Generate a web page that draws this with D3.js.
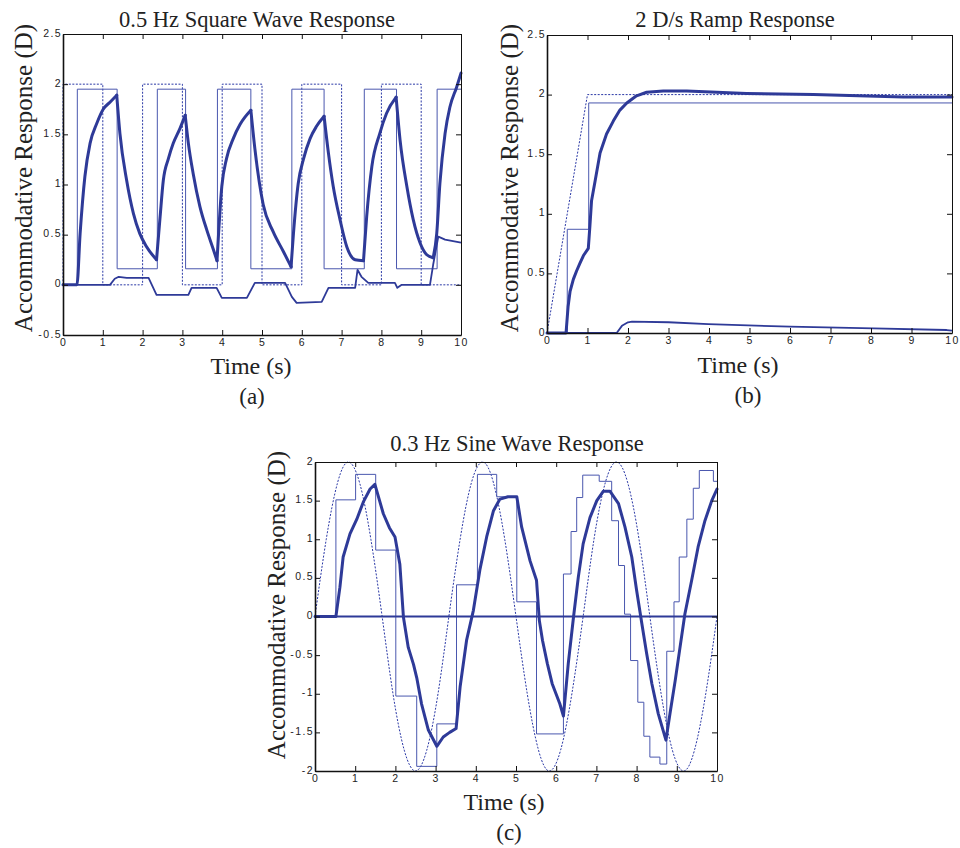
<!DOCTYPE html>
<meta charset="utf-8">
<head>
	<title>Accommodative responses</title>
</head>

<style>
body { margin: 0; background: #fff; }
svg { display: block; background: #fff; }
.tick text {
  font-family: "Liberation Sans", Arial, sans-serif;
  font-size: 10.5px;
  letter-spacing: 1.4px;
  fill: #222;
}
.tick line { stroke: #111; }
.domain { stroke: #111; }
.ttl { font-family: "Liberation Serif", "Times New Roman", serif; font-size: 22.5px; fill: #222; text-anchor: middle; }
.lbl { font-family: "Liberation Serif", "Times New Roman", serif; font-size: 24px; fill: #222; text-anchor: middle; }
.ylbl { font-size: 25px; }
.thick { fill: none; stroke: #2e3a98; stroke-width: 3; stroke-linejoin: round; stroke-linecap: round; }
.thin { fill: none; stroke: #4a57ae; stroke-width: 1; }
.lower { fill: none; stroke: #2e3a98; stroke-width: 1.8; stroke-linejoin: round; }
.dotted { fill: none; stroke: #2a38a6; stroke-width: 1; stroke-dasharray: 2,1.5; }
</style>

<body>
<svg width="960" height="848"></svg>

<script src="https://cdnjs.cloudflare.com/ajax/libs/d3/7.8.5/d3.min.js"></script>
<script>

var timeTicks = [0, 1, 2, 3, 4, 5, 6, 7, 8, 9, 10];
var squareYTicks = [-0.5, 0, 0.5, 1, 1.5, 2, 2.5];
var rampYTicks = [0, 0.5, 1, 1.5, 2, 2.5];
var sineYTicks = [-2, -1.5, -1, -0.5, 0, 0.5, 1, 1.5, 2];

// (a) 0.5 Hz square wave, [time s, dioptres]
var squareStimulus = [[0,0],[0,2],[1,0],[2,2],[3,0],[4,2],[5,0],[6,2],[7,0],[8,2],[9,0],[10,0]];
var squareStep = [[0,0],[0.36,1.95],[1.36,0.16],[2.37,1.95],[3.08,0.16],[3.88,1.95],[4.72,0.16],
	[5.75,1.95],[6.56,0.16],[7.57,1.95],[8.38,0.16],[9.40,1.95],[10,1.95]];
var squareResponse = [[0,0],[0.35,0],[0.43,0.51],[0.55,1.08],[0.68,1.41],[0.85,1.61],[1.01,1.75],[1.18,1.82],[1.35,1.89],
	[1.43,1.51],[1.60,1.04],[1.77,0.71],[1.93,0.51],[2.10,0.38],[2.35,0.25],
	[2.44,0.68],[2.52,1.04],[2.65,1.26],[2.77,1.41],[2.94,1.56],[3.07,1.69],
	[3.15,1.41],[3.27,1.11],[3.44,0.78],[3.61,0.55],[3.78,0.35],[3.87,0.24],
	[3.99,0.98],[4.11,1.26],[4.28,1.46],[4.45,1.60],[4.72,1.74],
	[4.82,1.36],[5.03,0.80],[5.28,0.53],[5.54,0.33],[5.73,0.18],
	[5.79,0.51],[5.91,1.01],[6.04,1.25],[6.21,1.46],[6.37,1.58],[6.56,1.68],
	[6.67,1.31],[6.79,0.98],[6.96,0.65],[7.13,0.38],[7.34,0.25],[7.55,0.24],
	[7.63,0.68],[7.76,1.18],[7.96,1.51],[8.13,1.71],[8.37,1.87],
	[8.47,1.44],[8.64,0.98],[8.80,0.65],[8.97,0.42],[9.14,0.30],[9.30,0.27],
	[9.39,0.51],[9.47,1.01],[9.60,1.51],[9.72,1.77],[9.89,1.97],[10,2.11]];
var squareLower = [[0,0],[1.18,0],[1.30,0.06],[1.40,0.08],[1.60,0.07],[2.15,0.07],[2.35,-0.10],[3.15,-0.10],
	[3.23,-0.03],[3.86,-0.03],[3.99,-0.13],[4.62,-0.13],[4.82,0.02],[5.58,0.02],[5.75,-0.12],[5.87,-0.18],
	[6.50,-0.17],[6.67,-0.03],[7.34,-0.03],[7.40,0.15],[7.50,0.08],[7.67,0.02],[8.34,0.02],[8.40,-0.03],
	[8.51,0.00],[9.22,0.00],[9.30,0.20],[9.43,0.48],[9.60,0.45],[10,0.42]];

// (b) 2 D/s ramp
var rampStimulus = [[0,0],[1,2],[10,2]];
var rampStep = [[0,0],[0.50,0.87],[1.03,1.93],[10,1.93]];
var rampResponse = [[0,0],[0.47,0],[0.52,0.22],[0.57,0.35],[0.65,0.45],[0.73,0.52],[0.82,0.59],[0.90,0.65],[1.02,0.71],
	[1.06,0.90],[1.10,1.11],[1.19,1.28],[1.31,1.51],[1.47,1.67],[1.64,1.78],[1.80,1.87],[1.97,1.93],
	[2.21,1.99],[2.46,2.02],[2.87,2.03],[3.45,2.03],[4.93,2.01],[6.58,2.00],[8.80,1.98],[10,1.98]];
var rampLower = [[0,0],[1.72,0],[1.85,0.06],[2.00,0.09],[2.10,0.095],[3.00,0.09],[3.98,0.075],[6.00,0.053],
	[8.06,0.039],[9.87,0.025],[10,0.02]];

// (c) 0.3 Hz sine
var sineStimulus = [[0,0],[0.28,1],[0.56,1.73],[0.83,2],[1.11,1.73],[1.39,1],[1.67,0],[1.94,-1],[2.22,-1.73],
	[2.50,-2],[2.78,-1.73],[3.06,-1],[3.33,0],[3.61,1],[3.89,1.73],[4.17,2],[4.44,1.73],[4.72,1],[5.00,0],
	[5.28,-1],[5.56,-1.73],[5.83,-2],[6.11,-1.73],[6.39,-1],[6.67,0],[6.94,1],[7.22,1.73],[7.50,2],
	[7.78,1.73],[8.06,1],[8.33,0],[8.61,-1],[8.89,-1.73],[9.17,-2],[9.44,-1.73],[9.72,-1],[10,0]];
var sineStep = [[0,0],[0.52,1.51],[1.01,1.84],[1.51,0.86],[2.01,-1.03],[2.53,-1.94],[3.03,-1.39],[3.52,0.41],
	[4.04,1.84],[4.52,1.55],[5.02,0.19],[5.51,-1.52],[6.18,0.55],[6.37,1.10],[6.51,1.54],[6.66,1.83],
	[7.07,1.75],[7.38,1.24],[7.55,0.66],[7.70,0.03],[7.85,-0.57],[8.03,-1.11],[8.18,-1.55],[8.33,-1.82],
	[8.58,-1.91],[8.75,-0.45],[8.93,0.19],[9.06,0.77],[9.25,1.26],[9.41,1.66],[9.56,1.89],[9.91,1.75],[10,1.75]];
var sineResponse = [[0,0],[0.52,0],[0.62,0.38],[0.70,0.77],[0.87,1.07],[1.04,1.26],[1.20,1.48],[1.37,1.65],[1.49,1.71],
	[1.70,1.33],[1.85,1.15],[1.99,1.03],[2.11,0.68],[2.20,-0.01],[2.32,-0.40],[2.45,-0.62],[2.53,-0.79],
	[2.65,-1.13],[2.82,-1.47],[3.03,-1.68],[3.19,-1.56],[3.35,-1.50],[3.51,-1.45],[3.61,-0.91],[3.77,-0.31],
	[3.94,0.08],[4.10,0.60],[4.27,1.03],[4.44,1.37],[4.60,1.52],[4.80,1.55],[5.02,1.55],[5.14,1.16],
	[5.35,0.72],[5.51,0.47],[5.58,-0.05],[5.66,-0.31],[5.78,-0.61],[5.90,-0.87],[6.09,-1.13],[6.18,-1.29],
	[6.30,-0.61],[6.43,-0.01],[6.55,0.51],[6.67,0.94],[6.84,1.28],[7.01,1.50],[7.17,1.62],[7.34,1.62],
	[7.55,1.46],[7.71,1.16],[7.88,0.77],[8.00,0.34],[8.13,-0.09],[8.25,-0.48],[8.38,-0.87],[8.54,-1.26],
	[8.73,-1.60],[8.83,-1.26],[8.96,-0.83],[9.08,-0.40],[9.20,0.03],[9.37,0.47],[9.53,0.90],[9.70,1.24],
	[9.87,1.50],[10,1.65]];
var sineLower = [[0,0],[10,0]];

var svg = d3.select('svg');
var fmt = function(d) { return String(d); };

// cut a response into runs going one way, so the turns stay sharp
function monotoneRuns(pts) {
	var runs = [], cur = [pts[0]], dir = 0;
	for (var i = 1; i < pts.length; i++) {
		var dv = pts[i][1] - pts[i - 1][1];
		var s = dv > 0 ? 1 : (dv < 0 ? -1 : 0);
		if (s !== 0 && dir !== 0 && s !== dir) {
			runs.push(cur);
			cur = [pts[i - 1]];
		}
		if (s !== 0) dir = s;
		cur.push(pts[i]);
	}
	runs.push(cur);
	return runs;
}

var panels = [
	{x0: 63, x1: 461, y0: 34, y1: 335, ydom: [-0.5, 2.5], yticks: squareYTicks,
	 title: '0.5 Hz Square Wave Response', tx: 257, ty: 27,
	 xl: [251, 374], tag: '(a)', tg: [252, 404], yl: [32, 178],
	 series: [[squareStimulus, 'dotted', d3.curveStepAfter], [squareStep, 'thin', d3.curveStepAfter],
		[squareLower, 'lower', d3.curveLinear], [squareResponse, 'thick', 'runs']]},
	{x0: 547, x1: 952, y0: 35, y1: 333, ydom: [0, 2.5], yticks: rampYTicks,
	 title: '2 D/s Ramp Response', tx: 735, ty: 27,
	 xl: [738, 373], tag: '(b)', tg: [748, 403], yl: [518, 178],
	 series: [[rampStimulus, 'dotted', d3.curveLinear], [rampStep, 'thin', d3.curveStepAfter],
		[rampLower, 'lower', d3.curveLinear], [rampResponse, 'thick', d3.curveLinear]]},
	{x0: 315, x1: 717, y0: 462, y1: 771, ydom: [-2, 2], yticks: sineYTicks,
	 title: '0.3 Hz Sine Wave Response', tx: 517, ty: 451,
	 xl: [504, 810], tag: '(c)', tg: [509, 840], yl: [285, 605],
	 series: [[sineStimulus, 'dotted', d3.curveNatural], [sineStep, 'thin', d3.curveStepAfter],
		[sineLower, 'lower', d3.curveLinear], [sineResponse, 'thick', d3.curveLinear]]}
];

panels.forEach(function(p) {
	var x = d3.scaleLinear().domain([0, 10]).range([p.x0, p.x1]);
	var y = d3.scaleLinear().domain(p.ydom).range([p.y1, p.y0]);
	var g = svg.append('g');

	// data lines
	p.series.forEach(function(s) {
		var line = d3.line()
			.x(function(d) { return x(d[0]); })
			.y(function(d) { return y(d[1]); });
		if (s[2] === 'runs') {
			line.curve(d3.curveMonotoneX);
			g.selectAll(null).data(monotoneRuns(s[0])).enter()
				.append('path').attr('class', s[1]).attr('d', line);
		} else {
			line.curve(s[2]);
			g.append('path').datum(s[0]).attr('class', s[1]).attr('d', line);
		}
	});

	// box with inward ticks
	g.append('g').attr('transform', 'translate(0,' + p.y1 + ')')
		.call(d3.axisBottom(x).tickValues(timeTicks).tickFormat(fmt).tickSizeInner(-5).tickSizeOuter(0).tickPadding(4))
		.call(function(a) { a.select('.domain').attr('stroke-width', 1.6); });
	g.append('g').attr('transform', 'translate(0,' + p.y0 + ')')
		.call(d3.axisTop(x).tickValues(timeTicks).tickFormat('').tickSizeInner(-5).tickSizeOuter(0));
	g.append('g').attr('transform', 'translate(' + p.x0 + ',0)')
		.call(d3.axisLeft(y).tickValues(p.yticks).tickFormat(fmt).tickSizeInner(-5).tickSizeOuter(0).tickPadding(1))
		.call(function(a) {
			a.select('.domain').attr('stroke-width', 1.6);
			a.selectAll('.tick text').attr('dy', '0.2em');
		});
	g.append('g').attr('transform', 'translate(' + p.x1 + ',0)')
		.call(d3.axisRight(y).tickValues(p.yticks).tickFormat('').tickSizeInner(-5).tickSizeOuter(0));

	g.selectAll('.domain').attr('fill', 'none');

	// texts
	g.append('text').attr('class', 'ttl').attr('x', p.tx).attr('y', p.ty).text(p.title);
	g.append('text').attr('class', 'lbl').attr('x', p.xl[0]).attr('y', p.xl[1]).text('Time (s)');
	g.append('text').attr('class', 'lbl').attr('x', p.tg[0]).attr('y', p.tg[1]).style('font-size', '23px').text(p.tag);
	g.append('text').attr('class', 'lbl ylbl')
		.attr('transform', 'translate(' + p.yl[0] + ',' + p.yl[1] + ') rotate(-90)')
		.text('Accommodative Response (D)');
});

</script>
</body>
</html>
